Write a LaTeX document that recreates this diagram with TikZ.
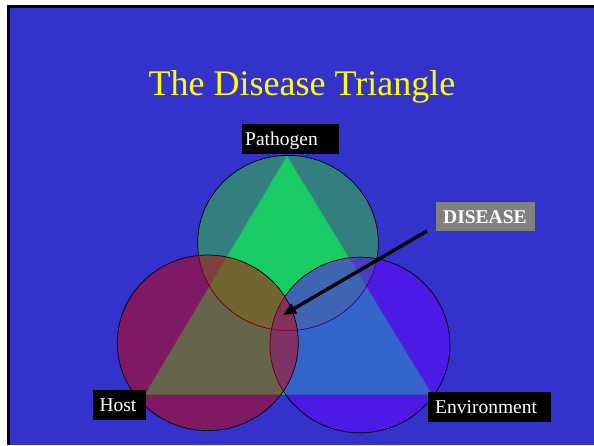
\documentclass[tikz,border=0pt]{standalone}
\usepackage{fontspec}
\setmainfont{Liberation Serif}
\usetikzlibrary{arrows.meta}
\definecolor{slidebg}{HTML}{3333CC}
\definecolor{trifill}{HTML}{00CC99}
\definecolor{triedge}{HTML}{00A078}
\definecolor{topc}{HTML}{33CC33}
\definecolor{rightc}{HTML}{6600FF}
\definecolor{leftc}{HTML}{CC0000}
\definecolor{titley}{HTML}{FFFF00}
\definecolor{disgray}{HTML}{808080}
\tikzset{
  circ/.style={draw=black, line width=0.7pt, fill opacity=0.5},
  lbl/.style={fill=black, text=white, font=\fontsize{19.5}{20}\selectfont,
    anchor=north west, inner ysep=0pt, text height=21.5pt, text depth=8pt, align=left},
  dis/.style={lbl, fill=disgray, font=\fontsize{19.5}{20}\selectfont\bfseries},
  pointer/.style={draw=black, line width=3.4pt, -{Triangle[length=13pt,width=11pt]}}
}
\begin{document}
\begin{tikzpicture}[x=1pt,y=-1pt]
\useasboundingbox (0,0) rectangle (594,445);
\fill[white] (0,0) rectangle (594,445);
\fill[black] (7,5) rectangle (594,445);
\fill[slidebg] (10,8) rectangle (594,445);
\node[text=titley, font=\fontsize{36}{40}\selectfont, anchor=base] (title) at (302,95) {The Disease Triangle};
% triangle
\filldraw[fill=trifill, draw=triedge, line width=0.6pt] (287,156) -- (145,394.5) -- (432,394.5) -- cycle;
% circles
\filldraw[circ, fill=topc] (288,243) ellipse [x radius=90.3pt, y radius=87.6pt];
\filldraw[circ, fill=rightc] (360,345) ellipse [x radius=90pt, y radius=87.8pt];
\filldraw[circ, fill=leftc] (207.8,342.8) ellipse [x radius=90.5pt, y radius=87.8pt];
% labels
\node[lbl, inner xsep=3pt, text width=91pt] (pathogen) at (242,124) {Pathogen};
\node[lbl, inner xsep=6.6pt, text width=40pt] (host) at (92.7,390) {Host};
\node[lbl, inner xsep=7pt, text width=109pt] (env) at (428,392) {Environment};
\node[dis, inner xsep=7pt, text width=85pt] (disease) at (436,201.7) {DISEASE};
% arrow
\coordinate (astart) at (427,231);
\coordinate (aend) at (283,315);
\draw[pointer] (astart) -- (aend);
\end{tikzpicture}
\end{document}
